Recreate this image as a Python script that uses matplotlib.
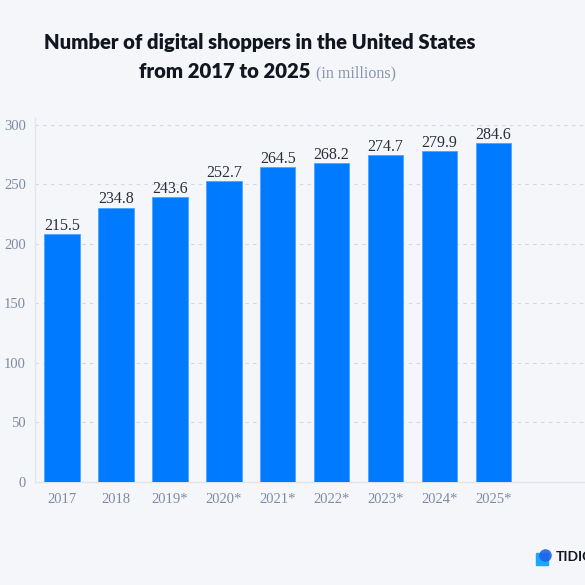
import matplotlib
matplotlib.use("Agg")
import matplotlib.pyplot as plt
from matplotlib.patches import FancyBboxPatch, Circle

years = ["2017", "2018", "2019*", "2020*", "2021*", "2022*", "2023*", "2024*", "2025*"]
bar_values = [208.0, 230.3, 239.1, 252.4, 264.3, 267.6, 274.2, 277.9, 284.6]
label_values = [215.5, 234.8, 243.6, 252.7, 264.5, 268.2, 274.7, 279.9, 284.6]
y_ticks = [0, 50, 100, 150, 200, 250, 300]

BG = "#f4f6f9"
BAR = "#007bff"
TICK = "#7f8aa3"
GRID = "#d3d8e1"
SERIF = "Liberation Serif"

fig = plt.figure(figsize=(5.85, 5.85), dpi=100, facecolor=BG)
ax = fig.add_axes([35/585, 1-481.7/585, 1-35/585, (481.7-118)/585])
ax.set_facecolor(BG)

x = list(range(len(years)))
ax.bar(x, bar_values, width=0.66, color=BAR, edgecolor="#4da3ff", linewidth=0.6, zorder=3)
for xi, h, lab in zip(x, bar_values, label_values):
    ax.annotate(f"{lab:.1f}", xy=(xi, h), xytext=(0, 3), textcoords="offset points",
                ha="center", va="baseline", fontsize=11.5, family=SERIF,
                color="#2b2f3a", zorder=4)

ax.set_xlim(-0.5, 9.7)
ax.set_ylim(0, 305.6)
ax.set_yticks(y_ticks)
ax.set_yticklabels([str(t) for t in y_ticks], family=SERIF, fontsize=10.5, color=TICK)
ax.set_xticks(x)
ax.set_xticklabels(years, family=SERIF, fontsize=10.5, color=TICK)
ax.tick_params(axis="both", length=0)
ax.tick_params(axis="y", pad=6.5)
ax.tick_params(axis="x", pad=8)

for t in y_ticks[1:]:
    ax.axhline(t, color=GRID, linestyle=(0, (3, 4)), linewidth=0.8, zorder=1)
for s in ["top", "right"]:
    ax.spines[s].set_visible(False)
ax.spines["left"].set_color("#e1e5ec")
ax.spines["bottom"].set_color("#e1e5ec")
ax.spines["left"].set_linewidth(1.0)
ax.spines["bottom"].set_linewidth(1.0)

# Title
fig.text(260/585, 1-42/585, "Number of digital shoppers in the United States",
         ha="center", va="center", fontsize=14.6, fontweight="heavy", family="Lato", color="#121620")
t2 = fig.text(139/585, 1-72/585, "from 2017 to 2025", ha="left", va="center",
              fontsize=14.6, fontweight="heavy", family="Lato", color="#121620")
fig.canvas.draw()
bb = t2.get_window_extent()
fig.text(bb.x1/585 + 6/585, 1-73/585, "(in millions)", ha="left", va="center",
         fontsize=11.5, family=SERIF, color="#8a94ad")

# Logo (drawn in a tiny pixel-mapped axes)
lax = fig.add_axes([532/585, 1-570/585, 22/585, 22/585])
lax.set_xlim(532, 554)
lax.set_ylim(570, 548)
lax.axis("off")
lax.add_patch(FancyBboxPatch((537, 554), 11, 11, boxstyle="round,pad=1.2",
                             facecolor="#1aa8ff", edgecolor="none"))
lax.add_patch(Circle((545.5, 555.5), 6.3, facecolor="#1f5fe8", edgecolor="none", alpha=0.88))
fig.text(556/585, 1-557/585, "TIDIO", ha="left", va="center", fontsize=10,
         fontweight="bold", family="Lato", color="#121620")

fig.savefig("out.png", dpi=100, facecolor=BG)
